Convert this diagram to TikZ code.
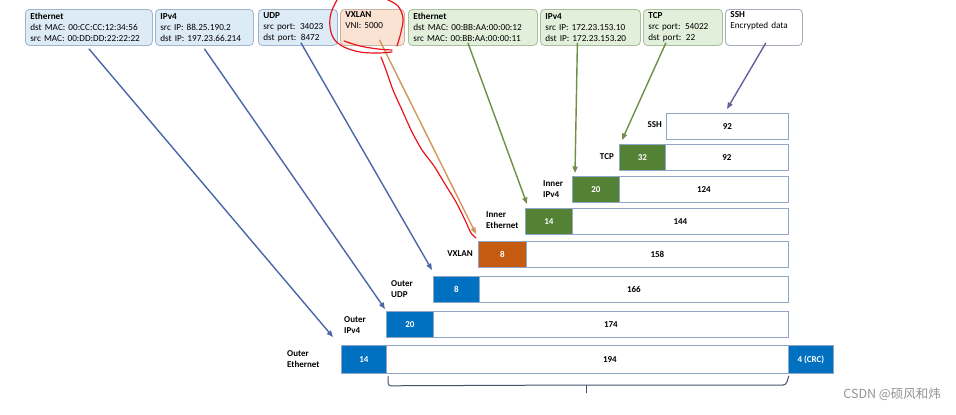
\documentclass[tikz,border=0pt]{standalone}
\usepackage{fontspec}
\setmainfont{Carlito}
\newfontfamily\cjk{Noto Sans CJK SC}
\usetikzlibrary{arrows.meta}
\definecolor{bfill}{HTML}{DDEBF7}
\definecolor{bline}{HTML}{9EB4CF}
\definecolor{ofill}{HTML}{FBE3D4}
\definecolor{oline}{HTML}{C8B2A4}
\definecolor{gfill}{HTML}{E2EFDA}
\definecolor{gline}{HTML}{A9BF9C}
\definecolor{sline}{HTML}{A4ABBA}
\definecolor{blkblue}{HTML}{0070C0}
\definecolor{blkgreen}{HTML}{548235}
\definecolor{blkorange}{HTML}{C55A11}
\definecolor{wline}{HTML}{8FA6C4}
\definecolor{arrblue}{HTML}{4A67A6}
\definecolor{arrgreen}{HTML}{6E8F45}
\definecolor{arrorange}{HTML}{D2955C}
\definecolor{arrpurple}{HTML}{6A5E9E}
\definecolor{bracecol}{HTML}{44546A}
\definecolor{annot}{HTML}{E8141B}
\tikzset{
  topbox/.style={draw, rounded corners=4pt, line width=0.8pt, anchor=north west,
    minimum height=36pt, inner xsep=5pt, inner ysep=2pt, align=left,
    font=\fontsize{9.2}{10.8}\selectfont},
  hdrblk/.style={draw=wline, line width=0.8pt, anchor=north west, minimum height=26pt,
    inner sep=0pt, text=white, font=\bfseries\fontsize{9}{10}\selectfont},
  payblk/.style={draw=wline, fill=white, line width=0.8pt, anchor=north west, minimum height=26pt,
    inner sep=0pt, font=\bfseries\fontsize{9}{10}\selectfont},
  rowlabel/.style={align=left, inner sep=0pt, font=\bfseries\fontsize{9}{11}\selectfont},
  conn/.style={line width=1.4pt, -{Triangle[length=6.5pt,width=5pt]}},
  annotline/.style={draw=annot, line width=1.2pt, line cap=round, line join=round}
}
\begin{document}
\begin{tikzpicture}[x=1pt,y=-1pt]
\useasboundingbox (0,0) rectangle (956,415);
\fill[white] (0,0) rectangle (956,415);

% ---- top header boxes ----
\node[topbox, fill=bfill, draw=bline, text width=117pt] (eth) at (25,9)
  {\textbf{Ethernet}\\dst MAC: 00:CC:CC:12:34:56\\src MAC: 00:DD:DD:22:22:22};
\node[topbox, fill=bfill, draw=bline, text width=88pt] (ip) at (155,9)
  {\textbf{IPv4}\\src IP: 88.25.190.2\\dst IP: 197.23.66.214};
\node[topbox, fill=bfill, draw=bline, text width=69pt] (udp) at (258,9)
  {\textbf{UDP}\\src port: 34023\\dst port: 8472};
\node[topbox, fill=ofill, draw=oline, text width=54pt] (vx) at (340,9)
  {\textbf{VXLAN}\\VNI: 5000\\\strut};
\node[topbox, fill=gfill, draw=gline, text width=119pt] (ethi) at (408,9)
  {\textbf{Ethernet}\\dst MAC: 00:BB:AA:00:00:12\\src MAC: 00:BB:AA:00:00:11};
\node[topbox, fill=gfill, draw=gline, text width=90pt] (ipi) at (540,9)
  {\textbf{IPv4}\\src IP: 172.23.153.10\\dst IP: 172.23.153.20};
\node[topbox, fill=gfill, draw=gline, text width=69pt] (tcp) at (643,9)
  {\textbf{TCP}\\src port: 54022\\dst port: 22};
\node[topbox, fill=white, draw=sline, text width=67pt] (ssh) at (725,9)
  {\textbf{SSH}\\Encrypted data\\\strut};

% ---- stair of headers ----
\node[payblk, minimum width=122pt] (sshp) at (666,113) {92};
\node[rowlabel, anchor=east] (sshl) at (662,125) {SSH};
\node[payblk, minimum width=123pt] (tcpp) at (665,144) {92};
\node[hdrblk, fill=blkgreen, minimum width=46pt] (tcpb) at (619,144) {32};
\node[rowlabel, anchor=east] (tcpl) at (614,157) {TCP};
\node[payblk, minimum width=169pt] (ipip) at (619,176) {124};
\node[hdrblk, fill=blkgreen, minimum width=47pt] (ipib) at (572,176) {20};
\node[rowlabel, anchor=west] (ipil) at (543,189) {Inner\\IPv4};
\node[payblk, minimum width=216pt] (ethip) at (572,208) {144};
\node[hdrblk, fill=blkgreen, minimum width=47pt] (ethib) at (525,208) {14};
\node[rowlabel, anchor=west] (ethil) at (486,220) {Inner\\Ethernet};
\node[payblk, minimum width=262pt] (vxp) at (526,241) {158};
\node[hdrblk, fill=blkorange, minimum width=48pt] (vxb) at (478,241) {8};
\node[rowlabel, anchor=east] (vxl) at (473,254) {VXLAN};
\node[payblk, minimum width=309pt] (udpp) at (479,276) {166};
\node[hdrblk, fill=blkblue, minimum width=46pt] (udpb) at (433,276) {8};
\node[rowlabel, anchor=west] (udpl) at (391,289) {Outer\\UDP};
\node[payblk, minimum width=355pt] (ipp) at (433,311) {174};
\node[hdrblk, fill=blkblue, minimum width=47pt] (ipb) at (386,311) {20};
\node[rowlabel, anchor=west] (ipl) at (344,325) {Outer\\IPv4};
\node[payblk, minimum width=447pt, minimum height=28pt] (ethp) at (386,345) {194};
\node[hdrblk, fill=blkblue, minimum width=45pt, minimum height=28pt] (ethb) at (341,345) {14};
\node[hdrblk, fill=blkblue, minimum width=45pt, minimum height=28pt] (crc) at (788,345) {4 (CRC)};
\node[rowlabel, anchor=west] (ethl) at (287,359) {Outer\\Ethernet};

% ---- brace ----
\draw[bracecol, line width=1pt, rounded corners=3pt]
  ([shift={(2,2)}]ethp.south west) -- ++(0,10) -- (586,385) -- (786,385) -- ([shift={(-45,2)}]ethp.south east);
\draw[bracecol, line width=1pt] (586,385) -- (586,393);

% ---- connectors ----
\draw[conn, arrblue] ([yshift=-3pt]eth.south) -- ([shift={(-8,-8)}]ethb.north west);
\draw[conn, arrblue] ([yshift=-3pt]ip.south) -- ([shift={(-1,-2)}]ipb.north west);
\draw[conn, arrblue] ([shift={(3,-3)}]udp.south) -- ([shift={(-1,-6)}]udpb.north west);
\draw[conn, arrorange] ([shift={(7,-6)}]vx.south) -- ([shift={(-2,-7)}]vxb.north west);
\draw[conn, arrgreen] ([shift={(-5,-3)}]ethi.south) -- ([shift={(2,-4)}]ethib.north west);
\draw[conn, arrgreen] ([shift={(-13,-3)}]ipi.south) -- ([shift={(3,-3)}]ipib.north west);
\draw[conn, arrgreen] ([shift={(-17,-3)}]tcp.south) -- ([shift={(3,-4)}]tcpb.north west);
\draw[conn, arrpurple] ([shift={(2,-3)}]ssh.south) -- ([shift={(61,-4)}]sshp.north west);

% ---- hand-drawn red annotation ----
\draw[annotline] plot[smooth, tension=0.6] coordinates
  {(337,0) (331,13) (330,27) (334,39) (344,47) (360,52) (378,53) (392,52)};
\draw[annotline] plot[smooth, tension=0.6] coordinates
  {(344,41) (360,46) (378,49) (392,50)};
\draw[annotline] plot[smooth, tension=0.6] coordinates
  {(388,0) (398,6) (403,18) (401,32) (397,46)};
\draw[annotline] plot[smooth, tension=0.4] coordinates
  {(381,57) (386,70) (393,90) (402,110) (412,132) (422,150) (434,166) (445,184) (456,202) (465,220) (471,233) (476,238)};

% ---- watermark ----
\node[anchor=east, text=black!42, inner sep=0pt, font=\cjk\fontsize{12.5}{14}\selectfont] (wm) at (941,394) {CSDN @硕风和炜};
\end{tikzpicture}
\end{document}
